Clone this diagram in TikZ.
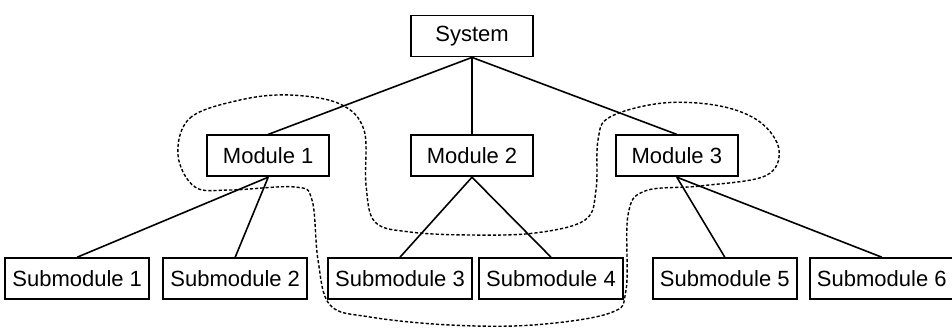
\documentclass[tikz,border=0pt]{standalone}
\usepackage{fontspec}
\setmainfont{Liberation Sans}
\usetikzlibrary{positioning}
\tikzset{
  unit/.style={draw, line width=0.9pt, minimum width=61pt, minimum height=20.5pt, inner xsep=3.5pt,
    font=\fontsize{11}{13}\selectfont},
  link/.style={line width=0.8pt},
  group/.style={line width=0.7pt, dash pattern=on 1.6pt off 1pt}
}

\begin{document}
\begin{tikzpicture}[x=0.5pt, y=-0.5pt]
  \useasboundingbox (0,0) rectangle (952,327);
  \node[unit] (sys) at (472,36) {System};
  \node[unit] (m2) [below=38.5pt of sys] {Module 2};
  \node[unit] (m1) [left=40pt of m2] {Module 1};
  \node[unit] (m3) [right=40.5pt of m2] {Module 3};
  \node[unit] (s1) [below=40pt of m1, xshift=-95.5pt] {Submodule 1};
  \node[unit] (s2) [below=40pt of m1, xshift=-16.5pt] {Submodule 2};
  \node[unit] (s3) [below=40pt of m2, xshift=-36pt] {Submodule 3};
  \node[unit] (s4) [below=40pt of m2, xshift=39.5pt] {Submodule 4};
  \node[unit] (s5) [below=40pt of m3, xshift=24pt] {Submodule 5};
  \node[unit] (s6) [below=40pt of m3, xshift=102.5pt] {Submodule 6};
  \draw[link] (sys.south) -- (m1.north);
  \draw[link] (sys.south) -- (m2.north);
  \draw[link] (sys.south) -- (m3.north);
  \draw[link] (m1.south) -- (s1.north);
  \draw[link] (m1.south) -- (s2.north);
  \draw[link] (m2.south) -- (s3.north);
  \draw[link] (m2.south) -- (s4.north);
  \draw[link] (m3.south) -- (s5.north);
  \draw[link] (m3.south) -- (s6.north);
  % dotted outline round the grouped modules
  \draw[group] plot[smooth cycle, tension=0.6] coordinates {
    (178,155) (190,118) (240,100) (290,95) (340,104) (364,130) (366,185)
    (375,222) (410,232) (470,235) (535,233) (585,220) (596,190) (598,140)
    (610,117) (663,103) (720,106) (760,122) (779,150) (765,176) (700,186)
    (645,191) (628,215) (626,290) (610,313) (533,325) (450,325) (370,317)
    (330,305) (318,260) (312,200) (295,187) (230,190) (195,187)};
\end{tikzpicture}
\end{document}
